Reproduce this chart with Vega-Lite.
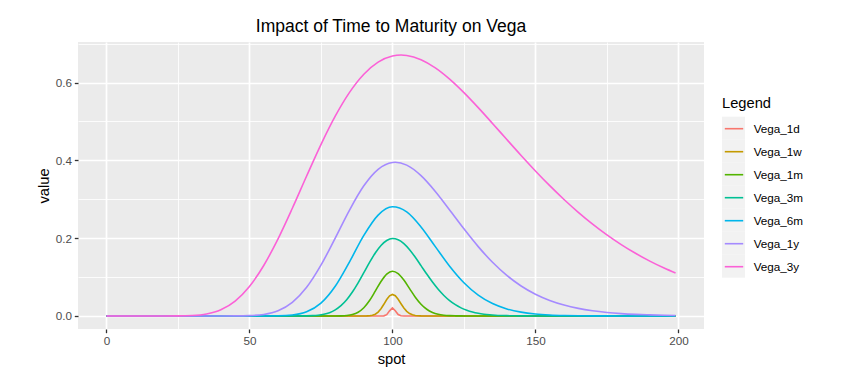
{
  "$schema": "https://vega.github.io/schema/vega-lite/v6.json",
  "width": 626,
  "height": 287,
  "autosize": {"type": "none"},
  "padding": {"left": 78, "top": 42, "right": 144, "bottom": 54},
  "background": "white",
  "title": {"text": "Impact of Time to Maturity on Vega", "frame": "group", "anchor": "middle", "font": "Liberation Sans", "fontSize": 17.5, "fontWeight": "normal", "color": "black", "baseline": "alphabetic", "offset": -7},
  "config": {
    "view": {"fill": "#EBEBEB", "stroke": null},
    "axis": {"domain": false, "labelFont": "Liberation Sans", "titleFont": "Liberation Sans", "labelFontSize": 11.7, "titleFontSize": 14.7, "labelColor": "#4D4D4D", "titleColor": "black", "titleFontWeight": "normal", "tickColor": "#333333", "tickSize": 3.7, "tickWidth": 1.3, "gridColor": "white", "labelPadding": 2.9, "titlePadding": 3.7, "labelFlush": false}
  },
  "data": {"values": [
    {"spot": 0, "series": "Vega_1d", "value": 0},
    {"spot": 95, "series": "Vega_1d", "value": 0},
    {"spot": 96, "series": "Vega_1d", "value": 0.0000103},
    {"spot": 97, "series": "Vega_1d", "value": 0.000301},
    {"spot": 98, "series": "Vega_1d", "value": 0.003227},
    {"spot": 99, "series": "Vega_1d", "value": 0.013138},
    {"spot": 100, "series": "Vega_1d", "value": 0.020881},
    {"spot": 101, "series": "Vega_1d", "value": 0.013325},
    {"spot": 102, "series": "Vega_1d", "value": 0.003506},
    {"spot": 103, "series": "Vega_1d", "value": 0.000391},
    {"spot": 104, "series": "Vega_1d", "value": 0.0000189},
    {"spot": 105, "series": "Vega_1d", "value": 0},
    {"spot": 199, "series": "Vega_1d", "value": 0},
    {"spot": 0, "series": "Vega_1w", "value": 0},
    {"spot": 88, "series": "Vega_1w", "value": 0},
    {"spot": 89, "series": "Vega_1w", "value": 0.0000077},
    {"spot": 90, "series": "Vega_1w", "value": 0.0000388},
    {"spot": 91, "series": "Vega_1w", "value": 0.000164},
    {"spot": 92, "series": "Vega_1w", "value": 0.000582},
    {"spot": 93, "series": "Vega_1w", "value": 0.001752},
    {"spot": 94, "series": "Vega_1w", "value": 0.004485},
    {"spot": 95, "series": "Vega_1w", "value": 0.009815},
    {"spot": 96, "series": "Vega_1w", "value": 0.018453},
    {"spot": 97, "series": "Vega_1w", "value": 0.029943},
    {"spot": 98, "series": "Vega_1w", "value": 0.04212},
    {"spot": 99, "series": "Vega_1w", "value": 0.051586},
    {"spot": 100, "series": "Vega_1w", "value": 0.055236},
    {"spot": 101, "series": "Vega_1w", "value": 0.051913},
    {"spot": 102, "series": "Vega_1w", "value": 0.04299},
    {"spot": 103, "series": "Vega_1w", "value": 0.031486},
    {"spot": 104, "series": "Vega_1w", "value": 0.020467},
    {"spot": 105, "series": "Vega_1w", "value": 0.011849},
    {"spot": 106, "series": "Vega_1w", "value": 0.00613},
    {"spot": 107, "series": "Vega_1w", "value": 0.002843},
    {"spot": 108, "series": "Vega_1w", "value": 0.001186},
    {"spot": 109, "series": "Vega_1w", "value": 0.000446},
    {"spot": 110, "series": "Vega_1w", "value": 0.000152},
    {"spot": 111, "series": "Vega_1w", "value": 0.0000469},
    {"spot": 112, "series": "Vega_1w", "value": 0.0000132},
    {"spot": 113, "series": "Vega_1w", "value": 0},
    {"spot": 199, "series": "Vega_1w", "value": 0},
    {"spot": 0, "series": "Vega_1m", "value": 0},
    {"spot": 76, "series": "Vega_1m", "value": 0},
    {"spot": 80, "series": "Vega_1m", "value": 0.0000621},
    {"spot": 82, "series": "Vega_1m", "value": 0.000298},
    {"spot": 84, "series": "Vega_1m", "value": 0.001153},
    {"spot": 86, "series": "Vega_1m", "value": 0.003653},
    {"spot": 88, "series": "Vega_1m", "value": 0.009605},
    {"spot": 90, "series": "Vega_1m", "value": 0.021201},
    {"spot": 92, "series": "Vega_1m", "value": 0.039713},
    {"spot": 94, "series": "Vega_1m", "value": 0.063796},
    {"spot": 96, "series": "Vega_1m", "value": 0.088698},
    {"spot": 98, "series": "Vega_1m", "value": 0.107679},
    {"spot": 100, "series": "Vega_1m", "value": 0.115057},
    {"spot": 102, "series": "Vega_1m", "value": 0.109023},
    {"spot": 104, "series": "Vega_1m", "value": 0.092248},
    {"spot": 106, "series": "Vega_1m", "value": 0.070153},
    {"spot": 108, "series": "Vega_1m", "value": 0.048241},
    {"spot": 110, "series": "Vega_1m", "value": 0.030164},
    {"spot": 112, "series": "Vega_1m", "value": 0.017239},
    {"spot": 114, "series": "Vega_1m", "value": 0.009052},
    {"spot": 116, "series": "Vega_1m", "value": 0.004385},
    {"spot": 118, "series": "Vega_1m", "value": 0.00197},
    {"spot": 120, "series": "Vega_1m", "value": 0.000823},
    {"spot": 122, "series": "Vega_1m", "value": 0.000321},
    {"spot": 124, "series": "Vega_1m", "value": 0.000118},
    {"spot": 126, "series": "Vega_1m", "value": 0.0000404},
    {"spot": 130, "series": "Vega_1m", "value": 0},
    {"spot": 199, "series": "Vega_1m", "value": 0},
    {"spot": 0, "series": "Vega_3m", "value": 0},
    {"spot": 62, "series": "Vega_3m", "value": 0},
    {"spot": 66, "series": "Vega_3m", "value": 0.0000319},
    {"spot": 68, "series": "Vega_3m", "value": 0.000106},
    {"spot": 70, "series": "Vega_3m", "value": 0.000314},
    {"spot": 72, "series": "Vega_3m", "value": 0.000831},
    {"spot": 74, "series": "Vega_3m", "value": 0.001983},
    {"spot": 76, "series": "Vega_3m", "value": 0.004298},
    {"spot": 78, "series": "Vega_3m", "value": 0.008532},
    {"spot": 80, "series": "Vega_3m", "value": 0.015602},
    {"spot": 82, "series": "Vega_3m", "value": 0.026419},
    {"spot": 84, "series": "Vega_3m", "value": 0.041651},
    {"spot": 86, "series": "Vega_3m", "value": 0.061423},
    {"spot": 88, "series": "Vega_3m", "value": 0.085099},
    {"spot": 90, "series": "Vega_3m", "value": 0.111215},
    {"spot": 92, "series": "Vega_3m", "value": 0.137608},
    {"spot": 94, "series": "Vega_3m", "value": 0.161736},
    {"spot": 96, "series": "Vega_3m", "value": 0.18115},
    {"spot": 98, "series": "Vega_3m", "value": 0.19391},
    {"spot": 100, "series": "Vega_3m", "value": 0.198911},
    {"spot": 102, "series": "Vega_3m", "value": 0.196016},
    {"spot": 104, "series": "Vega_3m", "value": 0.186001},
    {"spot": 106, "series": "Vega_3m", "value": 0.170314},
    {"spot": 108, "series": "Vega_3m", "value": 0.1508},
    {"spot": 110, "series": "Vega_3m", "value": 0.129345},
    {"spot": 112, "series": "Vega_3m", "value": 0.107659},
    {"spot": 114, "series": "Vega_3m", "value": 0.087111},
    {"spot": 116, "series": "Vega_3m", "value": 0.068622},
    {"spot": 118, "series": "Vega_3m", "value": 0.052694},
    {"spot": 120, "series": "Vega_3m", "value": 0.039502},
    {"spot": 122, "series": "Vega_3m", "value": 0.028948},
    {"spot": 124, "series": "Vega_3m", "value": 0.020757},
    {"spot": 126, "series": "Vega_3m", "value": 0.014585},
    {"spot": 128, "series": "Vega_3m", "value": 0.01005},
    {"spot": 130, "series": "Vega_3m", "value": 0.006799},
    {"spot": 132, "series": "Vega_3m", "value": 0.004519},
    {"spot": 134, "series": "Vega_3m", "value": 0.002955},
    {"spot": 136, "series": "Vega_3m", "value": 0.001901},
    {"spot": 138, "series": "Vega_3m", "value": 0.001204},
    {"spot": 140, "series": "Vega_3m", "value": 0.000752},
    {"spot": 142, "series": "Vega_3m", "value": 0.000464},
    {"spot": 144, "series": "Vega_3m", "value": 0.000282},
    {"spot": 146, "series": "Vega_3m", "value": 0.000169},
    {"spot": 150, "series": "Vega_3m", "value": 0.000059},
    {"spot": 156, "series": "Vega_3m", "value": 0},
    {"spot": 199, "series": "Vega_3m", "value": 0},
    {"spot": 0, "series": "Vega_6m", "value": 0},
    {"spot": 50, "series": "Vega_6m", "value": 0},
    {"spot": 55, "series": "Vega_6m", "value": 0.000032},
    {"spot": 60, "series": "Vega_6m", "value": 0.000363},
    {"spot": 65, "series": "Vega_6m", "value": 0.002435},
    {"spot": 70, "series": "Vega_6m", "value": 0.010663},
    {"spot": 75, "series": "Vega_6m", "value": 0.032973},
    {"spot": 80, "series": "Vega_6m", "value": 0.076403},
    {"spot": 85, "series": "Vega_6m", "value": 0.139165},
    {"spot": 90, "series": "Vega_6m", "value": 0.207006},
    {"spot": 95, "series": "Vega_6m", "value": 0.259316},
    {"spot": 100, "series": "Vega_6m", "value": 0.280513},
    {"spot": 105, "series": "Vega_6m", "value": 0.267548},
    {"spot": 110, "series": "Vega_6m", "value": 0.228919},
    {"spot": 115, "series": "Vega_6m", "value": 0.178255},
    {"spot": 120, "series": "Vega_6m", "value": 0.127883},
    {"spot": 125, "series": "Vega_6m", "value": 0.085415},
    {"spot": 130, "series": "Vega_6m", "value": 0.053589},
    {"spot": 135, "series": "Vega_6m", "value": 0.031814},
    {"spot": 140, "series": "Vega_6m", "value": 0.018001},
    {"spot": 145, "series": "Vega_6m", "value": 0.009761},
    {"spot": 150, "series": "Vega_6m", "value": 0.005094},
    {"spot": 155, "series": "Vega_6m", "value": 0.002572},
    {"spot": 160, "series": "Vega_6m", "value": 0.001259},
    {"spot": 165, "series": "Vega_6m", "value": 0.000601},
    {"spot": 170, "series": "Vega_6m", "value": 0.00028},
    {"spot": 175, "series": "Vega_6m", "value": 0.000129},
    {"spot": 180, "series": "Vega_6m", "value": 0.000058},
    {"spot": 185, "series": "Vega_6m", "value": 0.000025},
    {"spot": 199, "series": "Vega_6m", "value": 0},
    {"spot": 0, "series": "Vega_1y", "value": 0},
    {"spot": 40, "series": "Vega_1y", "value": 0.0000087},
    {"spot": 45, "series": "Vega_1y", "value": 0.000112},
    {"spot": 50, "series": "Vega_1y", "value": 0.000818},
    {"spot": 55, "series": "Vega_1y", "value": 0.0039},
    {"spot": 60, "series": "Vega_1y", "value": 0.013301},
    {"spot": 65, "series": "Vega_1y", "value": 0.034821},
    {"spot": 70, "series": "Vega_1y", "value": 0.073566},
    {"spot": 75, "series": "Vega_1y", "value": 0.130469},
    {"spot": 80, "series": "Vega_1y", "value": 0.200208},
    {"spot": 85, "series": "Vega_1y", "value": 0.272264},
    {"spot": 90, "series": "Vega_1y", "value": 0.334443},
    {"spot": 95, "series": "Vega_1y", "value": 0.376854},
    {"spot": 100, "series": "Vega_1y", "value": 0.394479},
    {"spot": 101, "series": "Vega_1y", "value": 0.394974},
    {"spot": 105, "series": "Vega_1y", "value": 0.387615},
    {"spot": 110, "series": "Vega_1y", "value": 0.360627},
    {"spot": 115, "series": "Vega_1y", "value": 0.320008},
    {"spot": 120, "series": "Vega_1y", "value": 0.272503},
    {"spot": 125, "series": "Vega_1y", "value": 0.223845},
    {"spot": 130, "series": "Vega_1y", "value": 0.178168},
    {"spot": 135, "series": "Vega_1y", "value": 0.137939},
    {"spot": 140, "series": "Vega_1y", "value": 0.104224},
    {"spot": 145, "series": "Vega_1y", "value": 0.07707},
    {"spot": 150, "series": "Vega_1y", "value": 0.055916},
    {"spot": 155, "series": "Vega_1y", "value": 0.039897},
    {"spot": 160, "series": "Vega_1y", "value": 0.028047},
    {"spot": 165, "series": "Vega_1y", "value": 0.019452},
    {"spot": 170, "series": "Vega_1y", "value": 0.01334},
    {"spot": 175, "series": "Vega_1y", "value": 0.009045},
    {"spot": 180, "series": "Vega_1y", "value": 0.006088},
    {"spot": 185, "series": "Vega_1y", "value": 0.00406},
    {"spot": 190, "series": "Vega_1y", "value": 0.002687},
    {"spot": 195, "series": "Vega_1y", "value": 0.001768},
    {"spot": 199, "series": "Vega_1y", "value": 0.00126},
    {"spot": 0, "series": "Vega_3y", "value": 0},
    {"spot": 20, "series": "Vega_3y", "value": 0.000009},
    {"spot": 25, "series": "Vega_3y", "value": 0.000157},
    {"spot": 30, "series": "Vega_3y", "value": 0.001178},
    {"spot": 35, "series": "Vega_3y", "value": 0.005207},
    {"spot": 40, "series": "Vega_3y", "value": 0.016067},
    {"spot": 45, "series": "Vega_3y", "value": 0.038398},
    {"spot": 50, "series": "Vega_3y", "value": 0.075887},
    {"spot": 55, "series": "Vega_3y", "value": 0.129763},
    {"spot": 60, "series": "Vega_3y", "value": 0.198225},
    {"spot": 65, "series": "Vega_3y", "value": 0.276836},
    {"spot": 70, "series": "Vega_3y", "value": 0.359659},
    {"spot": 75, "series": "Vega_3y", "value": 0.440378},
    {"spot": 80, "series": "Vega_3y", "value": 0.513424},
    {"spot": 85, "series": "Vega_3y", "value": 0.574611},
    {"spot": 90, "series": "Vega_3y", "value": 0.621285},
    {"spot": 95, "series": "Vega_3y", "value": 0.652351},
    {"spot": 100, "series": "Vega_3y", "value": 0.668055},
    {"spot": 103, "series": "Vega_3y", "value": 0.670571},
    {"spot": 105, "series": "Vega_3y", "value": 0.669572},
    {"spot": 110, "series": "Vega_3y", "value": 0.658755},
    {"spot": 115, "series": "Vega_3y", "value": 0.637727},
    {"spot": 120, "series": "Vega_3y", "value": 0.608787},
    {"spot": 125, "series": "Vega_3y", "value": 0.574031},
    {"spot": 130, "series": "Vega_3y", "value": 0.535467},
    {"spot": 135, "series": "Vega_3y", "value": 0.494813},
    {"spot": 140, "series": "Vega_3y", "value": 0.453373},
    {"spot": 145, "series": "Vega_3y", "value": 0.412396},
    {"spot": 150, "series": "Vega_3y", "value": 0.372686},
    {"spot": 155, "series": "Vega_3y", "value": 0.334818},
    {"spot": 160, "series": "Vega_3y", "value": 0.299271},
    {"spot": 165, "series": "Vega_3y", "value": 0.266313},
    {"spot": 170, "series": "Vega_3y", "value": 0.236018},
    {"spot": 175, "series": "Vega_3y", "value": 0.208422},
    {"spot": 180, "series": "Vega_3y", "value": 0.18342},
    {"spot": 185, "series": "Vega_3y", "value": 0.160993},
    {"spot": 190, "series": "Vega_3y", "value": 0.14092},
    {"spot": 195, "series": "Vega_3y", "value": 0.123099},
    {"spot": 199, "series": "Vega_3y", "value": 0.110306}
  ]},
  "layer": [
    {
      "transform": [{"filter": "datum.spot == 0"}],
      "mark": {"type": "point", "filled": true, "opacity": 0},
      "encoding": {
        "x": {"field": "spot", "type": "quantitative", "axis": null, "scale": {"domain": [-9.95, 208.95], "nice": false, "zero": false}},
        "y": {"field": "value", "type": "quantitative", "axis": null, "scale": {"domain": [-0.03353, 0.70411], "nice": false, "zero": false}},
        "fill": {
          "field": "series", "type": "nominal",
          "scale": {"domain": ["Vega_3y", "Vega_1y", "Vega_6m", "Vega_3m", "Vega_1m", "Vega_1w", "Vega_1d"], "range": ["#F2F2F2", "#F2F2F2", "#F2F2F2", "#F2F2F2", "#F2F2F2", "#F2F2F2", "#F2F2F2"]},
          "legend": {"title": "Legend", "orient": "none", "legendX": 644, "legendY": 54, "zindex": 0, "titleFont": "Liberation Sans", "titleFontSize": 14.7, "titleFontWeight": "normal", "titleColor": "black", "titlePadding": 6, "labelFont": "Liberation Sans", "labelFontSize": 11.7, "labelExpr": "''", "labelOpacity": 0, "symbolType": "square", "symbolSize": 529, "symbolStrokeWidth": 0, "symbolOpacity": 1, "rowPadding": 0, "padding": 0}
        }
      }
    },
    {
      "transform": [{"filter": {"field": "series", "oneOf": ["Vega_1d", "Vega_1w"]}}],
      "mark": {"type": "line", "strokeWidth": 1.6, "interpolate": "linear"},
      "encoding": {
        "x": {"field": "spot", "type": "quantitative", "scale": {"domain": [-9.95, 208.95], "nice": false, "zero": false},
              "axis": {"orient": "bottom", "values": [0, 50, 100, 150, 200], "format": "d", "grid": true, "gridWidth": 1.7, "title": "spot"}},
        "y": {"field": "value", "type": "quantitative", "scale": {"domain": [-0.03353, 0.70411], "nice": false, "zero": false},
              "axis": {"orient": "left", "values": [0, 0.2, 0.4, 0.6], "format": ".1f", "grid": true, "gridWidth": 1.7, "title": "value"}},
        "color": {
          "field": "series", "type": "nominal",
          "scale": {"domain": ["Vega_1d", "Vega_1w", "Vega_1m", "Vega_3m", "Vega_6m", "Vega_1y", "Vega_3y"], "range": ["#F8766D", "#C49A00", "#53B400", "#00C094", "#00B6EB", "#A58AFF", "#FB61D7"]},
          "legend": {"title": null, "orient": "none", "legendX": 645.5, "legendY": 76.2, "zindex": 1, "symbolType": "stroke", "symbolSize": 338.6, "symbolStrokeWidth": 1.6, "labelFont": "Liberation Sans", "labelFontSize": 11.7, "labelColor": "black", "labelOffset": 9.2, "rowPadding": 5, "padding": 0}
        }
      }
    },
    {
      "transform": [{"filter": {"field": "series", "oneOf": ["Vega_1m", "Vega_3m", "Vega_6m", "Vega_1y", "Vega_3y"]}}],
      "mark": {"type": "line", "strokeWidth": 1.6, "interpolate": "monotone"},
      "encoding": {
        "x": {"field": "spot", "type": "quantitative", "scale": {"domain": [-9.95, 208.95], "nice": false, "zero": false},
              "axis": {"orient": "bottom", "values": [25, 75, 125, 175], "grid": true, "gridWidth": 0.85, "ticks": false, "labels": false, "title": null}},
        "y": {"field": "value", "type": "quantitative", "scale": {"domain": [-0.03353, 0.70411], "nice": false, "zero": false},
              "axis": {"orient": "left", "values": [0.1, 0.3, 0.5, 0.7], "grid": true, "gridWidth": 0.85, "ticks": false, "labels": false, "title": null}},
        "color": {
          "field": "series", "type": "nominal",
          "scale": {"domain": ["Vega_1d", "Vega_1w", "Vega_1m", "Vega_3m", "Vega_6m", "Vega_1y", "Vega_3y"], "range": ["#F8766D", "#C49A00", "#53B400", "#00C094", "#00B6EB", "#A58AFF", "#FB61D7"]},
          "legend": {"title": null, "orient": "none", "legendX": 645.5, "legendY": 76.2, "zindex": 1, "symbolType": "stroke", "symbolSize": 338.6, "symbolStrokeWidth": 1.6, "labelFont": "Liberation Sans", "labelFontSize": 11.7, "labelColor": "black", "labelOffset": 9.2, "rowPadding": 5, "padding": 0}
        }
      }
    }
  ],
  "resolve": {"axis": {"x": "independent", "y": "independent"}}
}
